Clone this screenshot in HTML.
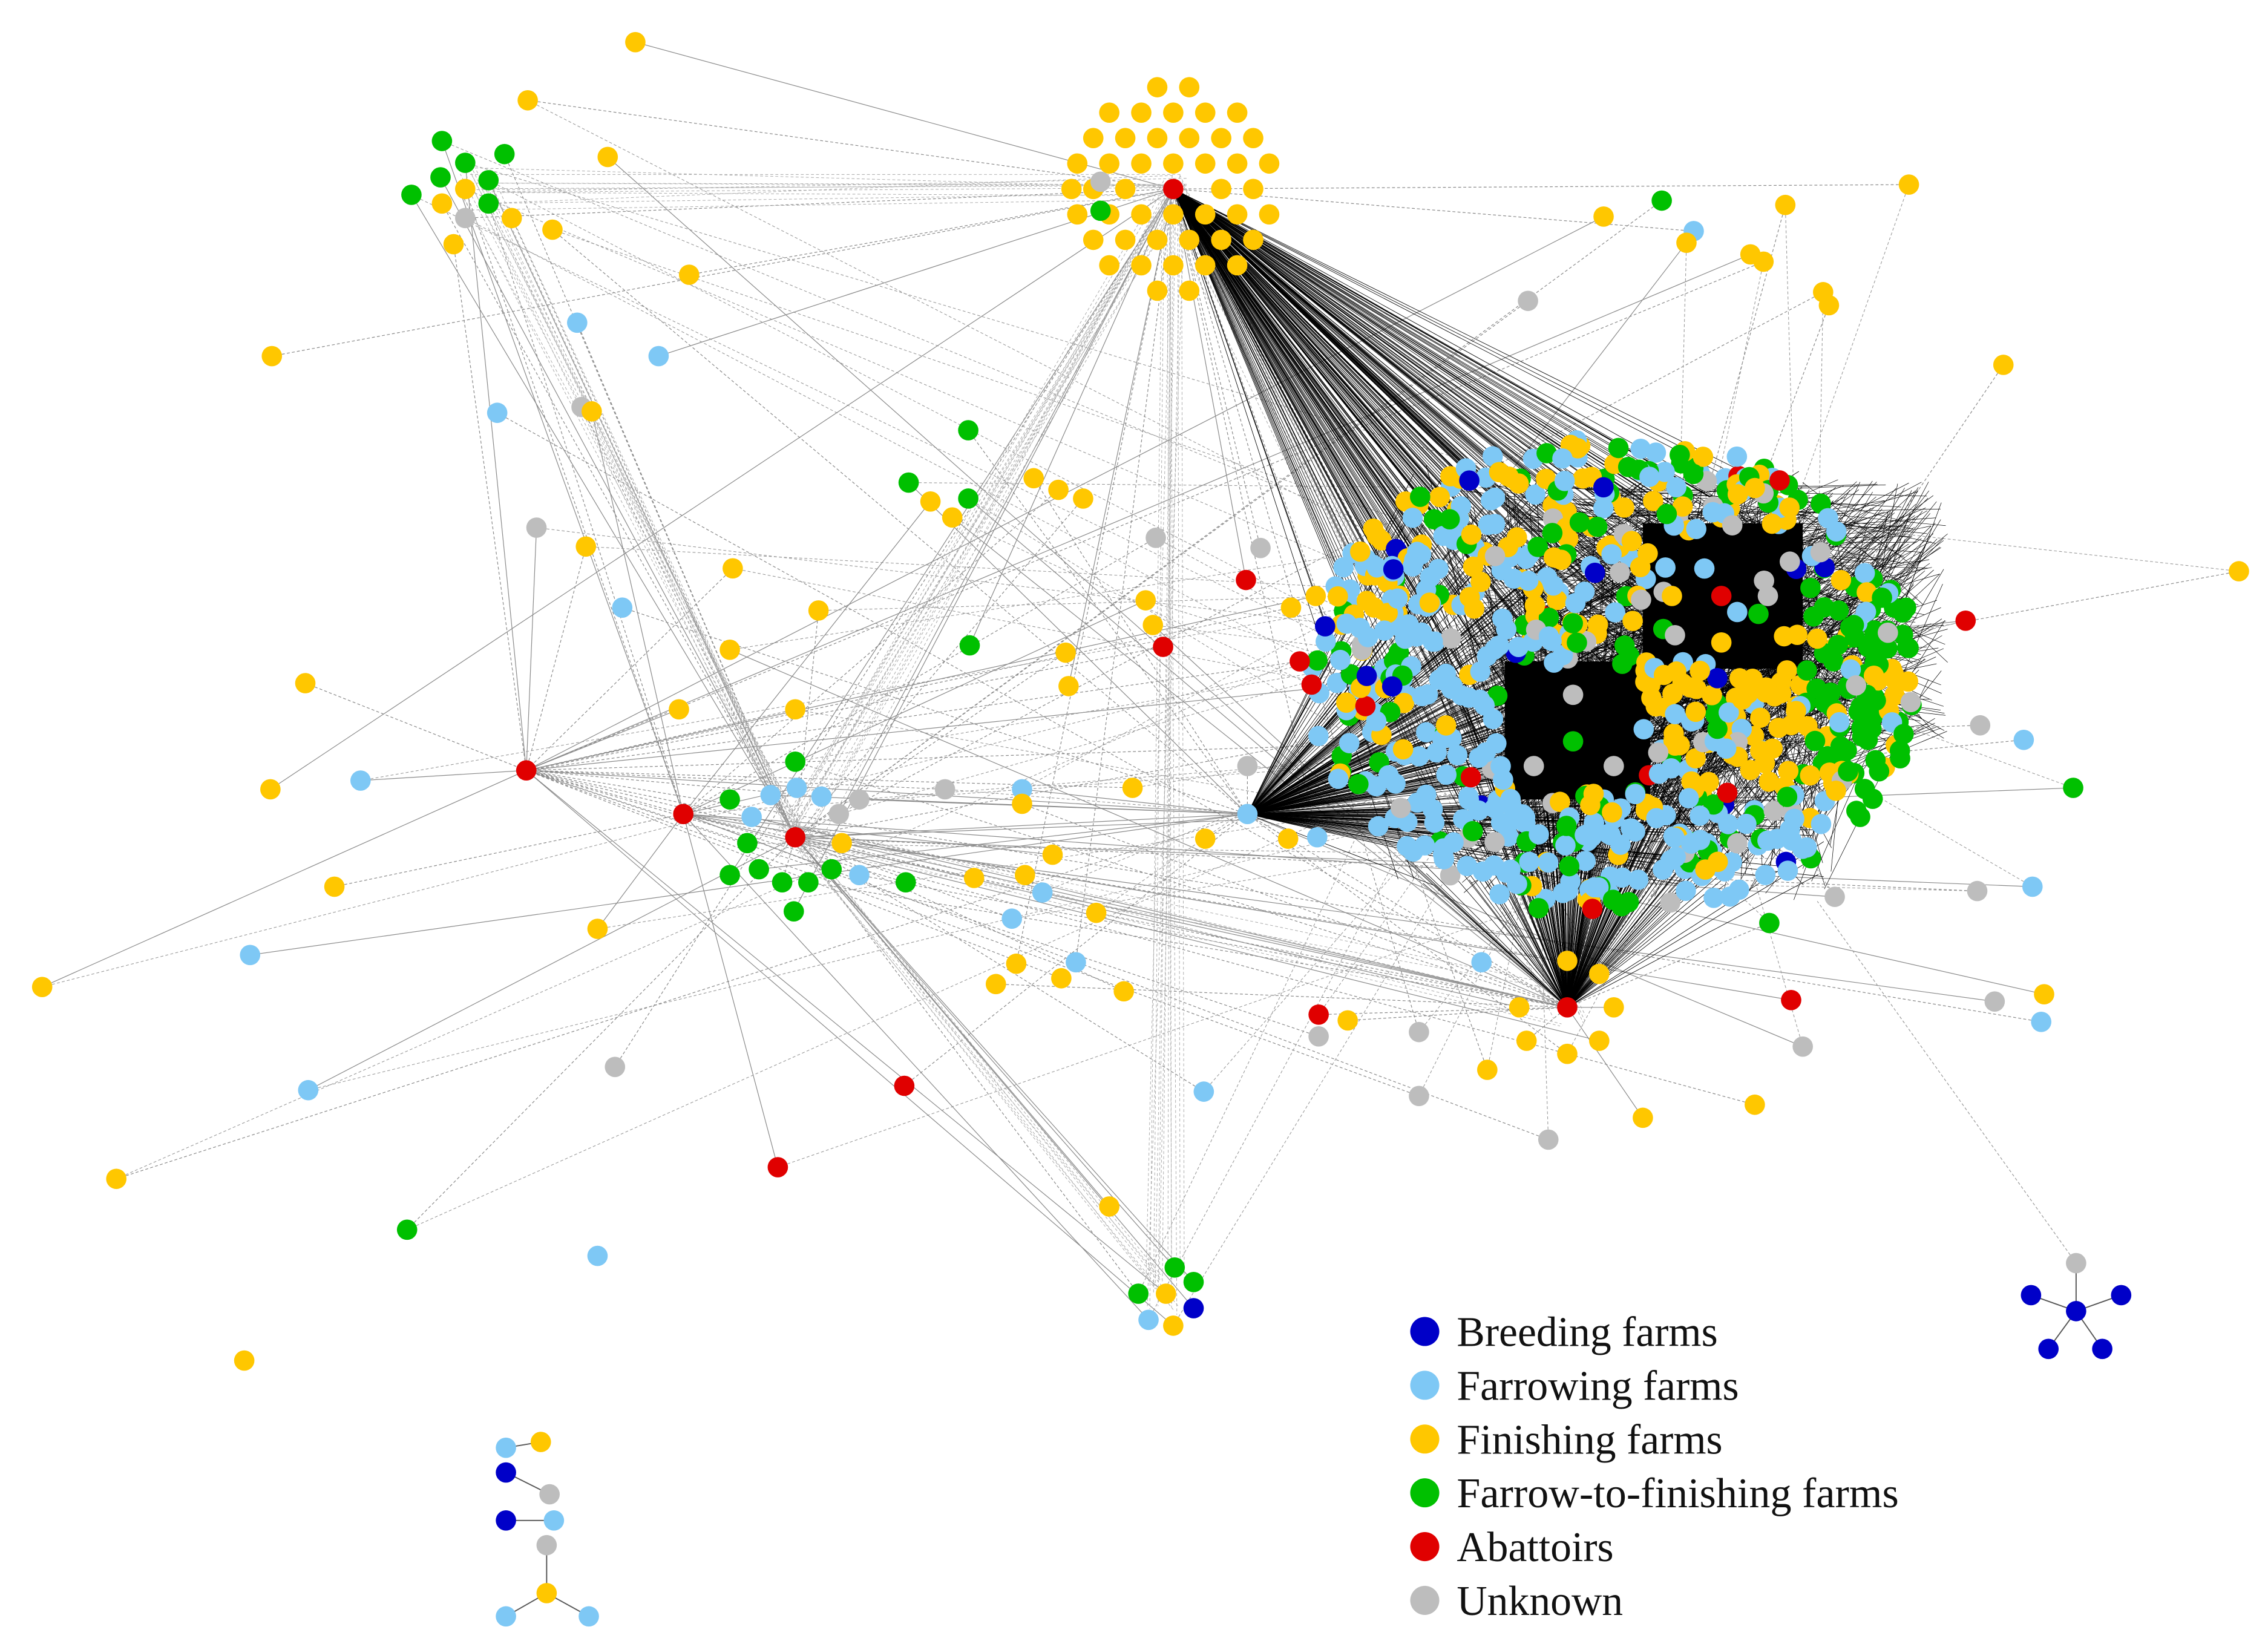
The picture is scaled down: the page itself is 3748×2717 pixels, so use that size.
<!DOCTYPE html>
<html><head><meta charset="utf-8"><style>html,body{margin:0;padding:0;background:#fff}svg{display:block}</style></head>
<body>
<svg id="s" xmlns="http://www.w3.org/2000/svg" width="3748" height="2717" viewBox="0 0 1560 1131" preserveAspectRatio="none">
<rect width="1560" height="1131" fill="#fff"/>
<g id="edges" fill="none"></g>
<g id="dark"></g>
<g id="nodes"></g>
<g font-family="Liberation Serif, serif" font-size="29" fill="#111">
<circle cx="980" cy="916" r="10" fill="#0000C8"/><text x="1002" y="926">Breeding farms</text>
<circle cx="980" cy="953" r="10" fill="#7EC8F5"/><text x="1002" y="963">Farrowing farms</text>
<circle cx="980" cy="990" r="10" fill="#FFC700"/><text x="1002" y="1000">Finishing farms</text>
<circle cx="980" cy="1027" r="10" fill="#00C000"/><text x="1002" y="1037" textLength="304" lengthAdjust="spacingAndGlyphs">Farrow-to-finishing farms</text>
<circle cx="980" cy="1064" r="10" fill="#E00000"/><text x="1002" y="1074">Abattoirs</text>
<circle cx="980" cy="1101" r="10" fill="#BDBDBD"/><text x="1002" y="1111">Unknown</text>
</g>
</svg>
<script>
(function(){
var C={Y:"#FFC700",L:"#7EC8F5",G:"#00C000",R:"#E00000",B:"#0000C8",U:"#BDBDBD"};
var seed=12345;function rnd(){seed=(seed*16807)%2147483647;return (seed-1)/2147483646;}
var ns="http://www.w3.org/2000/svg";
var E=document.getElementById("edges"),N=document.getElementById("nodes"),D=document.getElementById("dark");
function line(g,a,b,c,d,col,w,dash){var l=document.createElementNS(ns,"line");l.setAttribute("x1",a);l.setAttribute("y1",b);l.setAttribute("x2",c);l.setAttribute("y2",d);l.setAttribute("stroke",col);l.setAttribute("stroke-width",w);if(dash)l.setAttribute("stroke-dasharray",dash);g.appendChild(l);}
function node(x,y,t){var c=document.createElementNS(ns,"circle");c.setAttribute("cx",x);c.setAttribute("cy",y);c.setAttribute("r",7);c.setAttribute("fill",C[t]);N.appendChild(c);}
var hubs=[[807,130],[547,576],[1078,693],[858,560],[362,530],[470,560]];
var P=[
[437,29,"Y"],[363,69,"Y"],[304,97,"G"],[320,112,"G"],[347,106,"G"],[283,134,"G"],[303,122,"G"],[336,124,"G"],[336,140,"G"],[320,130,"Y"],[304,140,"Y"],[352,150,"Y"],[380,158,"Y"],[312,168,"Y"],[320,150,"U"],[418,108,"Y"],[474,189,"Y"],
[187,245,"Y"],[397,222,"L"],[453,245,"L"],[342,284,"L"],[400,280,"U"],[407,283,"Y"],[369,363,"U"],[403,376,"Y"],[428,418,"L"],[504,391,"Y"],[502,447,"Y"],[467,488,"Y"],[547,488,"Y"],[563,420,"Y"],
[210,470,"Y"],[248,537,"L"],[186,543,"Y"],[362,530,"R"],[470,560,"R"],[230,610,"Y"],[411,639,"Y"],[172,657,"L"],[29,679,"Y"],[212,750,"L"],[80,811,"Y"],[423,734,"U"],[280,846,"G"],[168,936,"Y"],[411,864,"L"],[535,803,"R"],[622,747,"R"],
[666,296,"G"],[625,332,"G"],[640,345,"Y"],[655,356,"Y"],[666,343,"G"],[711,329,"Y"],[728,337,"Y"],[745,343,"Y"],[667,444,"G"],[733,449,"Y"],[735,472,"Y"],[650,543,"U"],[703,543,"L"],[703,553,"Y"],[623,607,"G"],[591,602,"L"],[670,604,"Y"],[696,632,"L"],[717,614,"L"],[705,602,"Y"],[724,588,"Y"],[754,628,"Y"],[699,663,"Y"],[740,662,"L"],[730,673,"Y"],[685,677,"Y"],[773,682,"Y"],[779,542,"Y"],[829,577,"Y"],[858,527,"U"],[858,560,"L"],[886,577,"Y"],[906,576,"L"],
[795,370,"U"],[788,413,"Y"],[793,430,"Y"],[800,445,"R"],[857,399,"R"],[867,377,"U"],[888,418,"Y"],[894,455,"R"],[905,410,"Y"],
[1051,207,"U"],[1103,149,"Y"],[1143,138,"G"],[1165,159,"L"],[1160,167,"Y"],[1228,141,"Y"],[1313,127,"Y"],[1204,175,"Y"],[1213,180,"Y"],[1254,201,"Y"],[1258,210,"Y"],[1378,251,"Y"],[1540,393,"Y"],[1352,427,"R"],[1426,542,"G"],[1392,509,"L"],[1362,499,"U"],[1398,610,"L"],[1360,613,"U"],[1406,684,"Y"],[1404,703,"L"],[1372,689,"U"],[1232,688,"R"],[1240,720,"U"],[1207,760,"Y"],[1130,769,"Y"],[1065,784,"U"],[1217,635,"G"],[1262,617,"U"],[1019,662,"L"],[976,710,"U"],[976,754,"U"],[1023,736,"Y"],[1050,716,"Y"],[1078,725,"Y"],[1100,716,"Y"],[1110,693,"Y"],[1045,693,"Y"],[1078,661,"Y"],[1100,670,"Y"],[907,698,"R"],[907,713,"U"],[927,702,"Y"],[828,751,"L"],[763,830,"Y"],[1078,693,"R"],
[808,872,"G"],[821,882,"G"],[783,890,"G"],[802,890,"Y"],[807,912,"Y"],[790,908,"L"],[821,900,"B"],
[1428,869,"U"],[1397,891,"B"],[1428,902,"B"],[1459,891,"B"],[1409,928,"B"],[1446,928,"B"],
[348,996,"L"],[372,992,"Y"],[348,1013,"B"],[378,1028,"U"],[348,1046,"B"],[381,1046,"L"],[376,1063,"U"],[376,1096,"Y"],[348,1112,"L"],[405,1112,"L"]
];
[[547,524,"G"],[502,550,"G"],[514,580,"G"],[502,602,"G"],[522,598,"G"],[538,607,"G"],[556,607,"G"],[572,598,"G"],[546,627,"G"],[530,547,"L"],[548,542,"L"],[565,548,"L"],[517,562,"L"],[577,560,"U"],[591,550,"U"],[579,580,"Y"],[547,576,"R"]].forEach(function(p){P.push(p)});
var top=[];var row=0;
for(var yy=60;yy<=200;yy+=17.5){var off=(row%2)?11:0;row++;for(var xx=730;xx<=890;xx+=22){var x=xx+off;var dx=(x-807)/74,dy=(yy-130)/72;var d=dx*dx+dy*dy;if(d>1.0||d<0.05)continue;top.push([x,yy,"Y"]);}}
top.push([757,145,"G"],[757,125,"U"],[737,130,"Y"]);
for(var i=0;i<P.length;i++){var p=P[i];var h=hubs[Math.floor(rnd()*hubs.length)];if(p[1]>850&&p[0]<450)continue;if(p[0]>1380&&p[1]>860)continue;
 line(E,p[0],p[1],h[0],h[1],"#8a8a8a",0.5,rnd()<0.6?"2,1.5":null);
 if(rnd()<0.4){line(E,p[0],p[1],1000+rnd()*250,330+rnd()*280,"#999",0.45,"2,1.5");}}
for(var i=0;i<90;i++){var a=hubs[Math.floor(rnd()*2)],b=[[330,130],[800,890],[1078,693],[547,576]][Math.floor(rnd()*4)];line(E,a[0]+rnd()*20-10,a[1]+rnd()*20-10,b[0]+rnd()*30-15,b[1]+rnd()*30-15,"#aaa",0.4,"2,1.5");}
line(E,1428,902,1397,891,"#555",0.8);line(E,1428,902,1459,891,"#555",0.8);line(E,1428,902,1409,928,"#555",0.8);line(E,1428,902,1446,928,"#555",0.8);line(E,1428,902,1428,869,"#555",0.8);line(E,1428,869,1250,620,"#999",0.5,"2,1.5");
line(E,376,1063,376,1096,"#555",0.8);line(E,376,1096,348,1112,"#555",0.8);line(E,376,1096,405,1112,"#555",0.8);line(E,348,996,372,992,"#555",0.8);line(E,348,1013,378,1028,"#555",0.8);line(E,348,1046,381,1046,"#555",0.8);
for(var i=0;i<700;i++){var h=[[807,130],[1078,693],[858,560]][i%3];var x=960+rnd()*300,y=320+rnd()*290;line(D,h[0],h[1],x,y,"#000",0.35);}
for(var i=0;i<900;i++){var a=[1000+rnd()*260,330+rnd()*290],b=[1130+rnd()*210,330+rnd()*180];line(D,a[0],a[1],b[0],b[1],"#000",0.3);}
var r1=document.createElementNS(ns,"rect");r1.setAttribute("x",1035);r1.setAttribute("y",455);r1.setAttribute("width",100);r1.setAttribute("height",95);D.appendChild(r1);
var r2=document.createElementNS(ns,"rect");r2.setAttribute("x",1130);r2.setAttribute("y",360);r2.setAttribute("width",110);r2.setAttribute("height",100);D.appendChild(r2);
var cols=["L","L","L","Y","Y","Y","G","G","G","U","B","R"];
for(var i=0;i<900;i++){var a=rnd()*6.283,r=Math.sqrt(rnd());var x=1110+Math.cos(a)*r*210,y=465+Math.sin(a)*r*165;
 if(x>1040&&x<1130&&y>460&&y<545)continue; if(x>1135&&x<1235&&y>365&&y<455&&rnd()<0.9)continue;
 var t=cols[Math.floor(rnd()*cols.length)];if((t=="B"||t=="R")&&rnd()<0.7)t="L";
 if(x<1060&&rnd()<0.4)t="L"; if(y>560&&rnd()<0.5)t="L"; if(x>1130&&y>460&&y<545&&rnd()<0.6)t="Y"; if(x>1240&&rnd()<0.5)t="G";
 if(y<430&&x<1130&&rnd()<0.3)t="Y";
 node(x,y,t);}
[[1082,478,"U"],[1082,510,"G"],[1055,527,"U"],[1110,527,"U"],[1150,410,"Y"],[1184,410,"R"],[1216,410,"U"],[1184,442,"Y"]].forEach(function(p){node(p[0],p[1],p[2])});
P.concat(top).forEach(function(p){node(p[0],p[1],p[2])});
node(807,130,"R");
})();
</script>
</body></html>
